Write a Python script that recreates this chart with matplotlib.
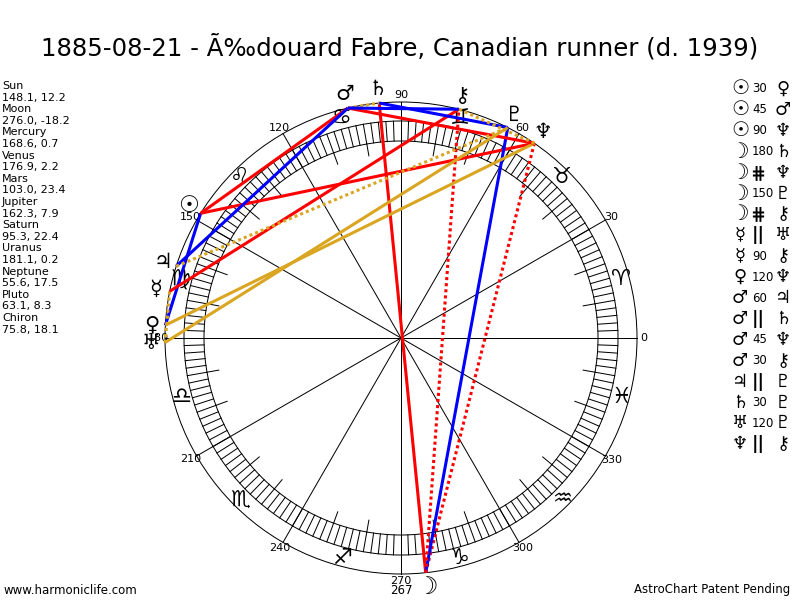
import numpy as np
import matplotlib
matplotlib.use("Agg")
import matplotlib.pyplot as plt
from matplotlib.patches import Circle

# ---------------- data ----------------
title = "1885-08-21 - Ã‰douard Fabre, Canadian runner (d. 1939)"
planet_names = ["Sun", "Moon", "Mercury", "Venus", "Mars", "Jupiter",
                "Saturn", "Uranus", "Neptune", "Pluto", "Chiron"]
planet_glyphs = ["☉", "☽", "☿", "♀", "♂", "♃", "♄", "♅", "♆", "♇", "⚷"]
longitudes = [148.1, 276.0, 168.6, 176.9, 103.0, 162.3, 95.3, 181.1, 55.6, 63.1, 75.8]
latitudes = [12.2, -18.2, 0.7, 2.2, 23.4, 7.9, 22.4, 0.2, 17.5, 8.3, 18.1]
sign_glyphs = ["♈", "♉", "♊", "♋", "♌", "♍", "♎", "♏", "♐", "♑", "♒", "♓"]
degree_labels = [0, 30, 60, 90, 120, 150, 180, 210, 240, 270, 300, 330]
extra_label = "267"

aspect_from = ["Sun", "Sun", "Sun", "Moon", "Moon", "Moon", "Moon", "Mercury", "Mercury",
               "Venus", "Mars", "Mars", "Mars", "Mars", "Jupiter", "Saturn", "Uranus", "Neptune"]
aspect_type = ["30", "45", "90", "180", "#", "150", "#", "||", "90",
               "120", "60", "||", "45", "30", "||", "30", "120", "||"]
aspect_to = ["Venus", "Mars", "Neptune", "Saturn", "Neptune", "Pluto", "Chiron", "Uranus", "Chiron",
             "Neptune", "Jupiter", "Saturn", "Neptune", "Chiron", "Pluto", "Pluto", "Pluto", "Chiron"]

aspect_colors = {"30": "#0000ff", "45": "#ff0000", "60": "#0000ff", "90": "#ff0000",
                 "120": "#daa520", "150": "#0000ff", "180": "#ff0000",
                 "||": "#daa520", "#": "#ff0000"}
aspect_symbol = {"||": "||", "#": "⋕"}
glyph_scale = {"☉": 1.12, "☽": 1.15}

# ---------------- figure ----------------
fig = plt.figure(figsize=(8, 6), dpi=100)
ax = fig.add_axes([0, 0, 1, 1])
ax.set_xlim(0, 800)
ax.set_ylim(600, 0)
ax.axis("off")

PX = 0.72  # points per pixel
cx, cy = 401, 338
R_OUT = 236
R_BAND_O = 217
R_BAND_I = 197
R_TICK_I = 185
R_SIGN = 228
R_DEG = 243
R_PLANET = 250


def pos(lon, r):
    a = np.deg2rad(lon)
    return cx + r * np.cos(a), cy - r * np.sin(a)


for r in (R_OUT, R_BAND_O, R_BAND_I):
    ax.add_patch(Circle((cx, cy), r, fill=False, lw=PX, color="black"))

# spokes
for d in degree_labels:
    x, y = pos(d, R_OUT)
    ax.plot([cx, x], [cy, y], color="black", lw=PX)

# band ticks every 2 degrees
for d in range(0, 360, 2):
    x0, y0 = pos(d, R_BAND_I)
    x1, y1 = pos(d, R_BAND_O)
    ax.plot([x0, x1], [y0, y1], color="black", lw=PX)
# inner ticks every 10 degrees
for d in range(0, 360, 10):
    if d % 30:
        x0, y0 = pos(d, R_TICK_I)
        x1, y1 = pos(d, R_BAND_I)
        ax.plot([x0, x1], [y0, y1], color="black", lw=PX)

# degree labels
for d in degree_labels:
    x, y = pos(d, R_DEG)
    ax.text(x, y, str(d), fontsize=8, ha="center", va="center")
ax.text(cx, 591, extra_label, fontsize=8.5, ha="center", va="center")

# signs
for i, g in enumerate(sign_glyphs):
    x, y = pos(15 + 30 * i, R_SIGN)
    ax.text(x, y, g, fontsize=16, ha="center", va="center", zorder=2)

# aspects
lon_of = dict(zip(planet_names, longitudes))
for a, t, b in zip(aspect_from, aspect_type, aspect_to):
    x0, y0 = pos(lon_of[a], R_OUT)
    x1, y1 = pos(lon_of[b], R_OUT)
    ls = (0, (1, 1)) if t in ("||", "#") else "-"
    ax.plot([x0, x1], [y0, y1], color=aspect_colors[t], lw=2.2, ls=ls,
            solid_capstyle="butt", zorder=3)

# planet glyphs
for g, lon in zip(planet_glyphs, longitudes):
    x, y = pos(lon, R_PLANET)
    ax.text(x, y, g, fontsize=15 * glyph_scale.get(g, 1.0), ha="center", va="center",
            zorder=4)

# title
ax.text(400, 47, title, fontsize=17.6, ha="center", va="center")

# left list
y = 86
for n, lo, la in zip(planet_names, longitudes, latitudes):
    ax.text(2, y, n, fontsize=8, ha="left", va="center")
    ax.text(2, y + 11.6, f"{lo:.1f}, {la:.1f}", fontsize=8, ha="left", va="center")
    y += 23.2

# right aspect list
glyph_of = dict(zip(planet_names, planet_glyphs))
y = 89
for a, t, b in zip(aspect_from, aspect_type, aspect_to):
    ga, gb = glyph_of[a], glyph_of[b]
    ax.text(740, y, ga, fontsize=13 * glyph_scale.get(ga, 1.0), ha="center", va="center")
    if t in aspect_symbol:
        ax.text(758, y, aspect_symbol[t], fontsize=13, fontweight="bold",
                ha="center", va="center")
    else:
        ax.text(752, y, t, fontsize=8.5, ha="left", va="center")
    ax.text(783, y, gb, fontsize=13 * glyph_scale.get(gb, 1.0), ha="center", va="center")
    y += 20.9

# footer
ax.text(3, 590, "www.harmoniclife.com", fontsize=8.5, ha="left", va="center")
ax.text(790, 590, "AstroChart Patent Pending", fontsize=8.5, ha="right", va="center")

fig.savefig("out.png", dpi=100)
